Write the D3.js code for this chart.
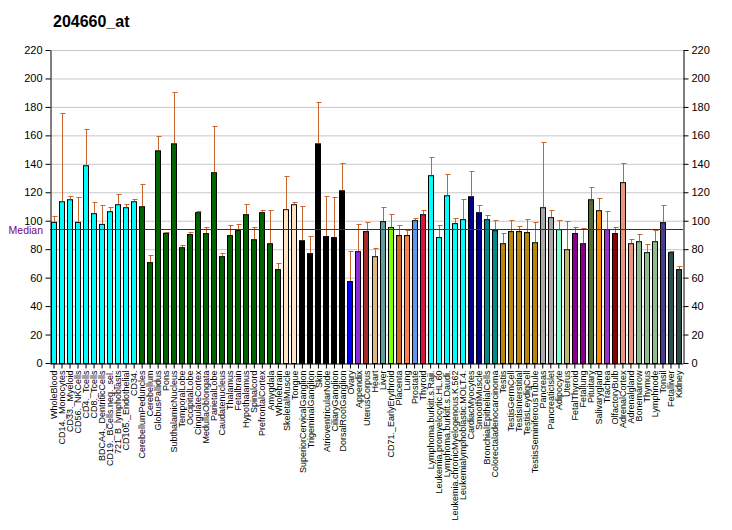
<!DOCTYPE html>
<html><head><meta charset="utf-8">
<script src="https://cdn.jsdelivr.net/npm/d3@7"></script>
<style>body{margin:0;background:#fff;} svg{display:block;}</style>
</head><body>
<script>
const categories = ["WholeBlood","CD14._Monocytes","CD33._Myeloid","CD56._NKCells","CD4._Tcells","CD8._Tcells","BDCA4._DentriticCells","CD19._BCells.neg._sel.","721_B_lymphoblasts","CD105._Endothelial","CD34.","CerebellumPeduncles","Cerebellum","GlobusPallidus","Pons","SubthalamicNucleus","TemporalLobe","OccipitalLobe","CingulateCortex","MedullaOblongata","ParietalLobe","Caudatenucleus","Thalamus","Fetalbrain","Hypothalamus","Spinalcord","PrefrontalCortex","Amygdala","Wholebrain","SkeletalMuscle","Tongue","SuperiorCervicalGanglion","TrigeminalGanglion","Skin","AtrioventricularNode","CiliaryGanglion","DorsalRootGanglion","Ovary","Appendix","UterusCorpus","Heart","Liver","CD71._EarlyErythroid","Placenta","Lung","Prostate","Thyroid","Lymphoma.burkitt.s.Raji.","Leukemia.promyelocytic.HL.60","Lymphoma.burkitt.s.Daudi.","Leukemia.chronicMyelogenous.K.562","Leukemialymphoblastic.MOLT.4.","CardiacMyocytes","SmoothMuscle","BronchialEpithelialCells","Colorectaladenocarcinoma","Testis","TestisGermCell","TestisInterstitial","TestisLeydigCell","TestisSeminiferousTubule","Pancreas","PancreaticIslet","Adipocyte","Uterus","FetalThyroid","Fetallung","Pituitary","Salivarygland","Trachea","OlfactoryBulb","AdrenalCortex","Adrenalgland","Bonemarrow","Thymus","Lymphnode","Tonsil","Fetalliver","Kidney"];
const values = [99.2,113.7,115.1,99.2,139,105.3,97.8,106.7,111.6,109.5,113.7,110.2,70.9,149.5,91.5,154.4,81.4,90.6,106,91.3,134.1,75.1,89.9,93.4,104.6,87,106,84.2,66,108.1,111.6,86.3,77.2,154.4,89.2,88.5,121.4,57.6,78.6,92.7,75.1,99.7,95.5,89.9,89.9,100.4,104.6,132,88.5,117.9,98.3,101.1,117.2,106,101.1,93.4,84.2,92.7,92.7,92,84.9,109.5,102.5,94.1,80,91.3,84.2,115.1,107.4,94.1,91.3,127.1,84.2,85.6,77.9,85.6,99,77.9,66];
const errTop = [103.2,175.7,117.2,116.5,164.3,113,110.9,109.5,118.6,111.6,115.1,125.7,75.6,159.4,92,190.2,82.6,92,106.7,95.5,166.4,77.2,96.9,97.6,111.6,95.5,107.4,107.4,70.2,131.3,113,110.2,89.2,183.2,117.2,116.5,140.4,78.6,97.6,99,80.7,109.5,104.6,96.9,93.4,101.8,107.4,144.6,96.9,132.7,101.8,115.1,134.8,110.9,103.9,100.4,91.3,100.4,96.2,101.1,99,155.1,107.4,100.4,99.7,95.5,94.8,123.6,115.8,106.7,95.5,140.4,87,90.6,83.5,93.4,110.9,78.6,68.1];
const colors = ["#00FFFF","#00FFFF","#00FFFF","#00FFFF","#00FFFF","#00FFFF","#00FFFF","#00FFFF","#00FFFF","#00FFFF","#00FFFF",
"#006400","#006400","#006400","#006400","#006400","#006400","#006400","#006400","#006400","#006400","#006400","#006400","#006400","#006400","#006400","#006400","#006400","#006400",
"#FFE4C4","#FFE4C4","#000000","#000000","#000000","#000000","#000000","#000000",
"#0000FF","#8A2BE2","#A52A2A","#DEB887","#5F9EA0","#7FFF00","#D2691E","#FF7F50","#6495ED","#DC143C",
"#00FFFF","#00FFFF","#00FFFF","#00FFFF","#00FFFF","#00008B","#00008B","#008B8B","#008B8B",
"#B8860B","#B8860B","#B8860B","#B8860B","#B8860B","#A9A9A9","#A9A9A9","#7FFFD4","#BDB76B","#8B008B","#8B008B","#556B2F","#FF8C00","#9932CC","#8B0000","#E9967A","#E9967A","#8FBC8F","#8FBC8F","#8FBC8F","#483D8B","#2F4F4F","#2F4F4F"];
const yTicks = [0,20,40,60,80,100,120,140,160,180,200,220];
const median = 94.1;
const title = "204660_at";

const W = 732, H = 530;
const m = {left: 50, right: 49, top: 50, bottom: 167};
const svg = d3.select("body").append("svg").attr("width", W).attr("height", H);
const x = d3.scaleBand().domain(categories).range([m.left, W - m.right]).paddingInner(0.25).paddingOuter(0.125);
const y = d3.scaleLinear().domain([0, 220]).range([H - m.bottom, m.top]);
const font = "Arial, 'Liberation Sans', sans-serif";

svg.append("text").attr("x", 53).attr("y", 27).text(title)
  .attr("font-family", font).attr("font-size", 16).attr("font-weight", "bold").attr("fill", "#000");

// grid
svg.append("g").selectAll("line").data(yTicks.filter(d => d > 0)).join("line")
  .attr("x1", m.left).attr("x2", W - m.right).attr("y1", d => y(d) + 0.5).attr("y2", d => y(d) + 0.5)
  .attr("stroke", "#C8C8C8").attr("stroke-width", 1);

// bars
svg.append("g").selectAll("rect").data(categories).join("rect")
  .attr("x", d => Math.round(x(d)) + 0.5).attr("width", Math.round(x.bandwidth()) - 1)
  .attr("y", (d, i) => y(values[i]) + 0.5).attr("height", (d, i) => y(0) - y(values[i]))
  .attr("fill", (d, i) => colors[i]).attr("stroke", "#000").attr("stroke-width", 1);

// error bars
const eg = svg.append("g").attr("stroke", "#C8642D").attr("stroke-width", 1);
categories.forEach((c, i) => {
  const cx = Math.round(x(c) + x.bandwidth() / 2) + 0.5;
  eg.append("line").attr("x1", cx).attr("x2", cx).attr("y1", y(values[i])).attr("y2", y(errTop[i]));
  eg.append("line").attr("x1", cx - 2).attr("x2", cx + 3).attr("y1", Math.round(y(errTop[i])) + 0.5).attr("y2", Math.round(y(errTop[i])) + 0.5);
});

// median
svg.append("line").attr("x1", m.left).attr("x2", W - m.right).attr("y1", Math.round(y(median)) + 0.5).attr("y2", Math.round(y(median)) + 0.5)
  .attr("stroke", "#800080").attr("stroke-width", 1);
svg.append("text").attr("x", 43).attr("y", y(median) + 5).attr("text-anchor", "end").text("Median")
  .attr("font-family", font).attr("font-size", 10.5).attr("fill", "#800080");

// axes
const la = svg.append("g").attr("transform", `translate(${m.left + 0.5},0)`)
  .call(d3.axisLeft(y).tickValues(yTicks).tickSize(5).tickSizeOuter(0));
const ra = svg.append("g").attr("transform", `translate(${W - m.right + 0.5},0)`)
  .call(d3.axisRight(y).tickValues(yTicks).tickSize(5).tickSizeOuter(0));
[la, ra].forEach(a => {
  a.selectAll("text").attr("font-family", font).attr("font-size", 11).attr("fill", "#000");
  a.selectAll("line,path").attr("stroke", "#000");
});
const xa = svg.append("g").attr("transform", `translate(0,${y(0) + 0.5})`)
  .call(d3.axisBottom(x).tickSize(5).tickSizeOuter(0));
xa.select("path").attr("stroke", "#000");
xa.selectAll("line").attr("stroke", "#000");
xa.selectAll("text").attr("font-family", font).attr("font-size", 9).attr("fill", "#000")
  .attr("transform", "rotate(-90)").attr("text-anchor", "end").attr("x", -7).attr("y", 0).attr("dy", "0.35em");
</script>
</body></html>
